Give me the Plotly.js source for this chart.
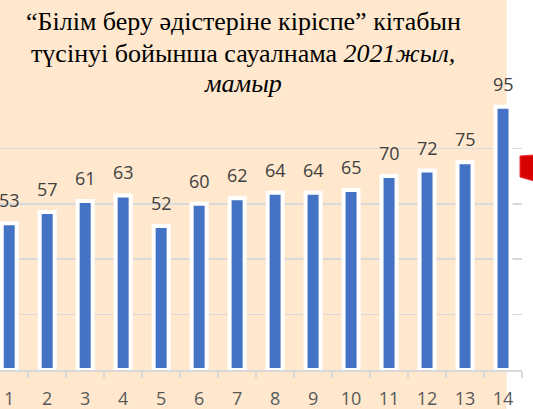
<!DOCTYPE html>
<html>
<head>
<meta charset="utf-8">
<script src="https://cdn.plot.ly/plotly-3.0.1.min.js"></script>
<style>html,body{margin:0;padding:0;background:#fff;}#chart{width:533px;height:409px;}</style>
</head>
<body>
<div id="chart"></div>
<script>
const categories = ['1','2','3','4','5','6','7','8','9','10','11','12','13','14'];
const values = [53, 57, 61, 63, 52, 60, 62, 64, 64, 65, 70, 72, 75, 95];
const titleLines = [
  '“Білім беру әдістеріне кіріспе” кітабын',
  'түсінуі бойынша сауалнама <i>2021жыл,</i>',
  '<i>мамыр</i>'
];

const PW = 522, PT = 93, PB = 370, PH = PB - PT;
const px = v => v / PW;
const py = v => (PB - v) / PH;

const trace = {
  type: 'bar',
  x: categories,
  y: values,
  marker: {color: '#4472C4', line: {color: '#FFFFFF', width: 4}},
  hoverinfo: 'skip'
};

const labelAnns = categories.map((c, i) => ({
  x: i, y: values[i], xref: 'x', yref: 'y',
  text: String(values[i]), showarrow: false,
  yanchor: 'bottom', yshift: 9,
  font: {family: 'Open Sans', size: 18, color: '#404040'}
}));

const TFS = 26;
const baselines = [31.5, 63, 93];
const titleAnns = titleLines.map((t, i) => ({
  x: px(243), xref: 'paper', xanchor: 'center',
  y: py(baselines[i] + 0.216 * TFS + 1), yref: 'paper', yanchor: 'bottom',
  text: t, showarrow: false,
  font: {family: 'Liberation Serif', size: TFS, color: '#000000'}
}));

const layout = {
  width: 533, height: 409,
  margin: {l: 0, r: 11, t: 93, b: 39, pad: 0},
  paper_bgcolor: '#FFFFFF',
  plot_bgcolor: 'rgba(0,0,0,0)',
  showlegend: false,
  bargap: 0.605,
  xaxis: {
    type: 'category',
    range: [-0.2424, 13.5],
    tickson: 'boundaries',
    ticks: 'outside', ticklen: 6, tickwidth: 1.5, tickcolor: '#D9D9D9',
    showline: true, linecolor: '#D9D9D9', linewidth: 1.5,
    showgrid: false, zeroline: false,
    ticklabelstandoff: 12,
    tickfont: {family: 'Open Sans', size: 18, color: '#595959'},
    fixedrange: true
  },
  yaxis: {
    range: [0, 100], dtick: 20, tick0: 0,
    showgrid: true, gridcolor: '#D9D9D9', gridwidth: 1.5,
    showticklabels: false, ticks: '', zeroline: false, showline: false,
    fixedrange: true
  },
  shapes: [
    {type: 'rect', xref: 'paper', yref: 'paper', layer: 'below',
     x0: px(-2), x1: px(506.7), y0: py(412), y1: py(-3),
     fillcolor: '#FFE8CE', line: {width: 0}},
    {type: 'path', xref: 'paper', yref: 'paper', layer: 'above',
     path: `M ${px(520)} ${py(156)} L ${px(534)} ${py(155)} L ${px(534)} ${py(181)} L ${px(520)} ${py(177)} Z`,
     fillcolor: '#D80000', line: {color: '#F03030', width: 1}}
  ],
  annotations: titleAnns.concat(labelAnns)
};

Plotly.newPlot('chart', [trace], layout, {displayModeBar: false, staticPlot: true});
</script>
</body>
</html>
